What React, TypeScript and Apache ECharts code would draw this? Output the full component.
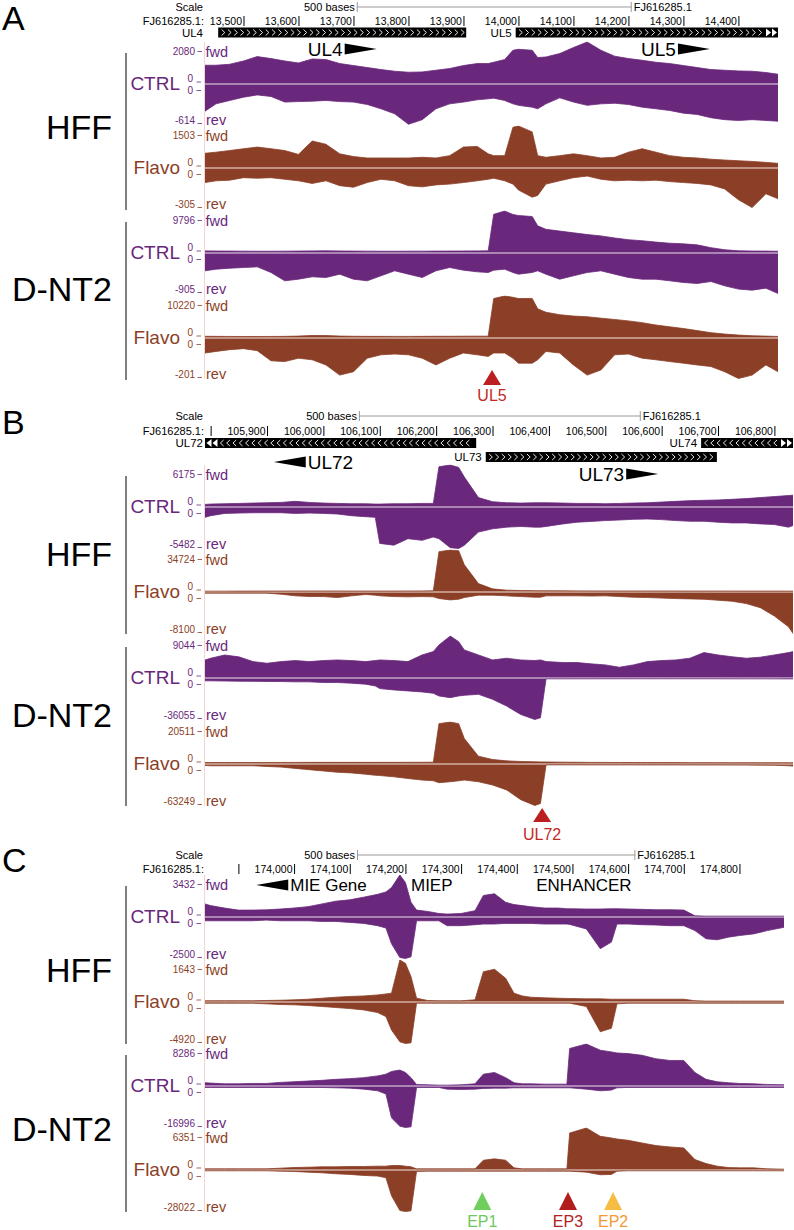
import { useEffect, useRef } from 'react';
import * as echarts from 'echarts';

const FONT = 'Arial, "Liberation Sans", Helvetica, sans-serif';
const CTRL_COLOR = '#69287b';
const FLAVO_COLOR = '#8c3f27';
const CTRL_ZERO = '#dccbe3';
const FLAVO_ZERO = '#ead2c9';
const TRACK_EDGE = '#f3d3d3';

// ───────── Panel A: UL4 / UL5 locus ─────────
const posA = [13430, 13450, 13475, 13500, 13525, 13550, 13575, 13600, 13625, 13650, 13675, 13700, 13725, 13750, 13775, 13800, 13825, 13850, 13875, 13900, 13925, 13945, 13955, 13975, 13990, 14000, 14025, 14035, 14050, 14075, 14100, 14125, 14150, 14175, 14200, 14225, 14250, 14275, 14300, 14325, 14350, 14375, 14400, 14425, 14450, 14472];
const aHffCtrlFwd = [915, 915, 965, 1130, 1350, 1250, 1130, 1030, 1230, 1200, 1000, 900, 800, 700, 615, 565, 580, 665, 750, 900, 1000, 1000, 1065, 1200, 1665, 1715, 1665, 1300, 1330, 1500, 1800, 2080, 1665, 1370, 1250, 1165, 1065, 1000, 900, 800, 700, 665, 630, 615, 550, 465];
const aHffCtrlRev = [-410, -297, -245, -195, -160, -184, -270, -262, -256, -245, -262, -270, -307, -373, -450, -610, -540, -373, -297, -270, -235, -220, -210, -245, -297, -320, -348, -373, -297, -205, -270, -320, -297, -288, -307, -348, -373, -399, -440, -460, -510, -540, -552, -540, -552, -563];
const aHffFlavoFwd = [515, 555, 615, 680, 740, 680, 615, 475, 960, 840, 495, 395, 345, 345, 345, 345, 370, 345, 430, 740, 765, 495, 430, 430, 1455, 1503, 1290, 430, 370, 430, 495, 430, 345, 370, 555, 680, 555, 430, 370, 345, 300, 270, 245, 220, 185, 150];
const aHffFlavoRev = [-107, -94, -89, -70, -74, -70, -82, -94, -114, -94, -131, -143, -107, -82, -94, -131, -140, -125, -119, -107, -94, -82, -74, -94, -119, -164, -219, -205, -119, -94, -70, -58, -82, -94, -89, -94, -89, -100, -107, -114, -125, -156, -238, -298, -193, -231];
const aDnt2CtrlFwd = [380, 350, 330, 320, 300, 300, 320, 340, 380, 400, 360, 330, 320, 300, 300, 310, 320, 330, 340, 360, 380, 390, 9000, 9796, 8980, 8730, 8490, 6290, 5470, 5060, 4650, 4240, 3920, 3430, 3020, 2780, 2450, 2200, 2040, 1800, 1140, 650, 410, 350, 330, 300];
const aDnt2CtrlRev = [-392, -355, -333, -317, -302, -430, -618, -581, -528, -543, -468, -581, -618, -505, -392, -468, -543, -392, -317, -377, -415, -430, -377, -355, -430, -468, -430, -392, -468, -581, -505, -430, -392, -468, -543, -581, -581, -618, -656, -679, -634, -732, -806, -830, -784, -905];
const aDnt2FlavoFwd = [300, 280, 260, 250, 250, 260, 280, 350, 500, 480, 350, 300, 280, 280, 270, 270, 280, 300, 300, 320, 330, 330, 9600, 10220, 9900, 9600, 9620, 7070, 6220, 5620, 5280, 5110, 4770, 4430, 4090, 3660, 3070, 2640, 2210, 1700, 1190, 850, 600, 430, 340, 260];
const aDnt2FlavoRev = [-73, -65, -56, -51, -61, -112, -116, -99, -107, -133, -184, -167, -99, -82, -78, -82, -99, -133, -99, -73, -82, -90, -73, -73, -99, -124, -124, -107, -65, -73, -133, -184, -158, -82, -78, -99, -107, -116, -124, -133, -141, -167, -201, -184, -133, -167];
const aMax = [2080, 1503, 9796, 10220];
const aMin = [-614, -305, -905, -201];
const rulerA = [13500, 13600, 13700, 13800, 13900, 14000, 14100, 14200, 14300, 14400];
const scaleBarA = [13706, 14206];

// ───────── Panel B: UL72 / UL73 / UL74 locus ─────────
const posB = [105790, 105800, 105825, 105850, 105875, 105900, 105925, 105950, 105975, 106000, 106025, 106050, 106075, 106092, 106100, 106125, 106150, 106175, 106195, 106205, 106225, 106240, 106250, 106275, 106300, 106325, 106350, 106375, 106385, 106395, 106425, 106450, 106475, 106500, 106525, 106550, 106575, 106600, 106625, 106650, 106675, 106700, 106725, 106750, 106775, 106800, 106825, 106833];
const bHffCtrlFwd = [310, 360, 410, 460, 510, 560, 610, 765, 610, 510, 460, 410, 410, 360, 360, 410, 410, 460, 460, 5920, 6175, 5820, 4390, 1330, 715, 560, 510, 560, 560, 560, 510, 460, 460, 410, 460, 510, 560, 660, 765, 870, 920, 970, 1070, 1175, 1330, 1480, 1630, 1685];
const bHffCtrlRev = [-1316, -1100, -790, -745, -700, -700, -700, -790, -745, -790, -877, -1100, -1230, -1316, -4800, -5040, -4170, -4390, -3950, -4170, -5370, -5482, -5040, -3290, -2850, -2630, -2540, -2630, -2630, -2540, -2190, -1970, -1860, -1750, -1670, -1580, -1540, -1620, -1750, -1840, -1840, -1970, -2060, -2060, -2190, -2280, -2630, -2410];
const bHffFlavoFwd = [300, 300, 300, 320, 350, 380, 400, 420, 430, 430, 420, 400, 380, 380, 380, 400, 420, 480, 550, 33300, 34724, 34100, 22300, 6600, 2200, 1100, 800, 700, 650, 600, 550, 500, 480, 460, 450, 440, 430, 420, 410, 400, 390, 380, 370, 360, 350, 340, 330, 320];
const bHffFlavoRev = [-130, -130, -130, -130, -130, -130, -330, -660, -800, -800, -1000, -660, -400, -530, -660, -800, -860, -800, -860, -1200, -1460, -1330, -1000, -530, -530, -660, -800, -930, -930, -660, -660, -660, -700, -660, -800, -930, -1000, -1100, -1200, -1260, -1330, -1530, -1730, -2190, -2990, -4650, -6770, -8100];
const bDnt2CtrlFwd = [3800, 4200, 4900, 4500, 3470, 3110, 3470, 3690, 3470, 3690, 3830, 3690, 3470, 3690, 3830, 3690, 3470, 4920, 5640, 7090, 9044, 7810, 6000, 4920, 3830, 4200, 3830, 3690, 3830, 3470, 3260, 3260, 2970, 2750, 2240, 2750, 3470, 3690, 3830, 4200, 5430, 4920, 4520, 4200, 4430, 4920, 5430, 5640];
const bDnt2CtrlRev = [-2070, -2070, -2200, -2400, -2500, -2600, -2660, -2950, -2950, -3550, -3550, -4140, -5020, -6500, -8870, -10050, -10930, -11820, -13000, -15360, -16840, -15360, -14780, -13890, -18320, -24230, -31620, -36055, -34600, -300, -300, -280, -280, -260, -260, -260, -250, -250, -250, -260, -260, -270, -280, -300, -300, -320, -350, -350];
const bDnt2FlavoFwd = [500, 500, 500, 500, 500, 500, 520, 540, 560, 560, 560, 560, 560, 560, 560, 570, 580, 600, 650, 19700, 20511, 19700, 12300, 3610, 1970, 1300, 1000, 850, 800, 750, 650, 600, 550, 520, 500, 480, 460, 450, 440, 430, 420, 410, 400, 400, 400, 390, 380, 380];
const bDnt2FlavoRev = [-1500, -2000, -2000, -2000, -2000, -3000, -4000, -6000, -8000, -10000, -12000, -13000, -15000, -16600, -17000, -19000, -21600, -24000, -25100, -28100, -26600, -25100, -24000, -26600, -31600, -39200, -54200, -63249, -60200, -600, -600, -600, -650, -650, -650, -650, -700, -700, -700, -750, -800, -800, -850, -900, -1000, -1200, -2000, -2500];
const bMax = [6175, 34724, 9044, 20511];
const bMin = [-5482, -8100, -36055, -63249];
const rulerB = [105800, 105900, 106000, 106100, 106200, 106300, 106400, 106500, 106600, 106700, 106800];
const scaleBarB = [106063, 106563];

// ───────── Panel C: MIE promoter / enhancer ─────────
const posC = [173840, 173850, 173875, 173900, 173925, 173950, 173975, 174000, 174025, 174050, 174075, 174100, 174125, 174150, 174165, 174175, 174190, 174200, 174210, 174220, 174240, 174260, 174275, 174300, 174325, 174340, 174360, 174380, 174395, 174410, 174425, 174450, 174475, 174490, 174495, 174525, 174550, 174570, 174580, 174600, 174625, 174650, 174675, 174700, 174720, 174740, 174760, 174780, 174800, 174825, 174850, 174880];
const cHffCtrlFwd = [1040, 900, 700, 530, 530, 550, 620, 700, 815, 1040, 1270, 1380, 1600, 1830, 2030, 2390, 3432, 2810, 1180, 530, 420, 250, 200, 250, 480, 1740, 1880, 1180, 985, 900, 815, 700, 700, 645, 645, 620, 620, 640, 640, 620, 590, 560, 560, 530, 60, 30, 30, 30, 30, 30, 30, 30];
const cHffCtrlRev = [-200, -200, -200, -200, -200, -160, -200, -200, -200, -240, -240, -300, -360, -500, -640, -1600, -2440, -2500, -2400, -200, -200, -200, -500, -500, -440, -400, -400, -360, -360, -360, -360, -400, -400, -400, -420, -700, -1900, -1500, -400, -400, -440, -460, -500, -500, -800, -1300, -1360, -1200, -1100, -1000, -800, -600];
const cHffFlavoFwd = [30, 30, 30, 30, 30, 40, 50, 65, 90, 130, 170, 200, 220, 260, 300, 330, 1643, 1510, 990, 130, 40, 30, 30, 30, 65, 1180, 1275, 920, 330, 220, 170, 145, 130, 120, 120, 105, 105, 90, 90, 90, 90, 90, 90, 90, 30, 15, 15, 15, 15, 15, 15, 15];
const cHffFlavoRev = [-80, -80, -80, -80, -80, -160, -240, -280, -360, -480, -600, -730, -890, -1210, -1690, -3310, -4720, -4920, -4840, -80, -80, -80, -80, -80, -80, -80, -80, -80, -80, -80, -80, -80, -80, -80, -80, -480, -3510, -3100, -160, -80, -80, -80, -80, -80, -80, -80, -80, -80, -80, -80, -80, -80];
const cDnt2CtrlFwd = [550, 480, 340, 340, 410, 410, 620, 750, 890, 1030, 1230, 1370, 1570, 1920, 2260, 2810, 3080, 2600, 1570, 200, 140, 70, 70, 140, 340, 2260, 2600, 1570, 550, 340, 340, 270, 270, 270, 7400, 8286, 7050, 6710, 6500, 6370, 6030, 5340, 5000, 5000, 2600, 1230, 750, 550, 410, 340, 200, 140];
const cDnt2CtrlRev = [-400, -400, -400, -400, -400, -400, -400, -400, -400, -400, -540, -680, -1090, -1770, -3130, -13000, -16450, -16996, -16720, -400, -400, -400, -1090, -1220, -1090, -820, -680, -680, -540, -540, -540, -540, -540, -540, -540, -1090, -1770, -1500, -540, -400, -400, -400, -400, -400, -400, -400, -400, -400, -400, -400, -400, -400];
const cDnt2FlavoFwd = [100, 100, 100, 100, 100, 100, 200, 300, 350, 410, 410, 460, 460, 510, 510, 610, 610, 510, 410, 100, 100, 100, 100, 100, 100, 1420, 1630, 1420, 250, 100, 100, 100, 100, 100, 5590, 6351, 5080, 4830, 4670, 4470, 4060, 3660, 3460, 3300, 1520, 910, 510, 300, 250, 250, 100, 50];
const cDnt2FlavoRev = [-200, -200, -200, -200, -200, -200, -450, -670, -1120, -1570, -2240, -2690, -3360, -3810, -4930, -17260, -27350, -28022, -27570, -670, -450, -450, -450, -450, -450, -450, -450, -450, -450, -450, -450, -450, -450, -450, -450, -1120, -2900, -2690, -450, -200, -200, -200, -200, -200, -200, -200, -200, -200, -200, -200, -200, -200];
const cMax = [3432, 1643, 8286, 6351];
const cMin = [-2500, -4920, -16996, -28022];
const rulerC = [173900, 174000, 174100, 174200, 174300, 174400, 174500, 174600, 174700, 174800];
const scaleBarC = [174113, 174613];

// ───────── annotation features ─────────
const genesA = [
  { name: 'UL4', start: 13454, end: 13905, strand: '+', row: 0 },
  { name: 'UL5', start: 13995, end: 14472, strand: '+', row: 0, moreRight: true },
];
const genesB = [
  { name: 'UL72', start: 105790, end: 106271, strand: '-', row: 0, moreLeft: true },
  { name: 'UL74', start: 106670, end: 106833, strand: '-', row: 0, moreRight: true },
  { name: 'UL73', start: 106288, end: 106698, strand: '+', row: 1 },
];
const genesC: any[] = [];

const calloutsA = [
  { text: 'UL4', pos: 13617, arrow: 'right', row: 0 },
  { text: 'UL5', pos: 14223, arrow: 'right', row: 0 },
];
const calloutsB = [
  { text: 'UL72', pos: 105912, arrow: 'left', row: 0 },
  { text: 'UL73', pos: 106453, arrow: 'right', row: 1 },
];
const calloutsC = [
  { text: 'MIE Gene', pos: 173932, arrow: 'left', row: 0 },
  { text: 'MIEP', pos: 174210, arrow: 'none', row: 0 },
  { text: 'ENHANCER', pos: 174435, arrow: 'none', row: 0 },
];

const markersA = [{ text: 'UL5', pos: 13952, color: '#bc1f1f', textColor: '#c4281f' }];
const markersB = [{ text: 'UL72', pos: 106388, color: '#bc1f1f', textColor: '#c4281f' }];
const markersC = [
  { text: 'EP1', pos: 174338, color: '#6fcf5d', textColor: '#6dca5b' },
  { text: 'EP3', pos: 174492, color: '#b21d1d', textColor: '#b52020' },
  { text: 'EP2', pos: 174573, color: '#f6bd44', textColor: '#f29a2f' },
];

const cellLines = ['HFF', 'HFF', 'D-NT2', 'D-NT2'];
const conditions = ['CTRL', 'Flavo', 'CTRL', 'Flavo'];

const panels = [
  {
    letter: 'A', start: 13430, end: 14472, pos: posA,
    fwd: [aHffCtrlFwd, aHffFlavoFwd, aDnt2CtrlFwd, aDnt2FlavoFwd],
    rev: [aHffCtrlRev, aHffFlavoRev, aDnt2CtrlRev, aDnt2FlavoRev],
    maxes: aMax, mins: aMin, ruler: rulerA, scaleBar: scaleBarA,
    genes: genesA, callouts: calloutsA, markers: markersA,
    layout: {
      left: 205, right: 778, letterY: 18, scaleY: 7, rulerY: 21, geneRows: [32.5], calloutRows: [49], calloutFont: 19,
      tops: [42, 126, 211, 296], fwdH: 41.5, revH: 41, cellY: [127, 289],
      markerTip: 370, markerBase: 385, markerTextY: 395,
    },
  },
  {
    letter: 'B', start: 105790, end: 106833, pos: posB,
    fwd: [bHffCtrlFwd, bHffFlavoFwd, bDnt2CtrlFwd, bDnt2FlavoFwd],
    rev: [bHffCtrlRev, bHffFlavoRev, bDnt2CtrlRev, bDnt2FlavoRev],
    maxes: bMax, mins: bMin, ruler: rulerB, scaleBar: scaleBarB,
    genes: genesB, callouts: calloutsB, markers: markersB,
    layout: {
      left: 205, right: 793, letterY: 422, scaleY: 416, rulerY: 431, geneRows: [443, 457], calloutRows: [462, 474], calloutFont: 19,
      tops: [465, 550, 636, 722], fwdH: 41.5, revH: 42, cellY: [554, 715],
      markerTip: 808, markerBase: 822, markerTextY: 834,
    },
  },
  {
    letter: 'C', start: 173840, end: 174880, pos: posC,
    fwd: [cHffCtrlFwd, cHffFlavoFwd, cDnt2CtrlFwd, cDnt2FlavoFwd],
    rev: [cHffCtrlRev, cHffFlavoRev, cDnt2CtrlRev, cDnt2FlavoRev],
    maxes: cMax, mins: cMin, ruler: rulerC, scaleBar: scaleBarC,
    genes: genesC, callouts: calloutsC, markers: markersC,
    layout: {
      left: 205, right: 784, letterY: 860, scaleY: 855, rulerY: 869, geneRows: [], calloutRows: [885], calloutFont: 17,
      tops: [875, 960, 1044, 1128], fwdH: 41.5, revH: 42, cellY: [970, 1129],
      markerTip: 1192, markerBase: 1210, markerTextY: 1221,
    },
  },
];

let measureCtx: CanvasRenderingContext2D | null = null;
function textWidth(text: string, size: number): number {
  if (!measureCtx) measureCtx = document.createElement('canvas').getContext('2d');
  if (!measureCtx) return text.length * size * 0.6;
  measureCtx.font = `${size}px ${FONT}`;
  return measureCtx.measureText(text).width;
}

const txt = (text: string, x: number, y: number, size: number, fill: string, align = 'left', extra: any = {}) => ({
  type: 'text',
  silent: true,
  style: { text, x, y, fontSize: size, fontFamily: FONT, fill, align, verticalAlign: 'middle', ...extra },
});

const seg = (x1: number, y1: number, x2: number, y2: number, stroke: string, lineWidth = 1) => ({
  type: 'line',
  silent: true,
  shape: { x1, y1, x2, y2 },
  style: { stroke, lineWidth },
});

function buildOption() {
  const grid: any[] = [];
  const xAxis: any[] = [];
  const yAxis: any[] = [];
  const series: any[] = [];
  const graphics: any[] = [];

  const addGrid = (left: number, width: number, top: number, height: number, xmin: number, xmax: number, ymin: number, ymax: number) => {
    const i = grid.length;
    grid.push({ left, top, width, height, containLabel: false, show: false });
    xAxis.push({ type: 'value', gridIndex: i, min: xmin, max: xmax, show: false });
    yAxis.push({ type: 'value', gridIndex: i, min: ymin, max: ymax, show: false });
    return i;
  };

  panels.forEach((p) => {
    const L: any = p.layout;
    const width = L.right - L.left;

    // ── header: ruler, scale bar, gene models, callouts ──
    const h = addGrid(L.left, width, L.scaleY - 5, 40, p.start, p.end, 0, 1);

    series.push({
      type: 'custom', xAxisIndex: h, yAxisIndex: h, silent: true,
      data: p.ruler.map((v) => [v]),
      renderItem: (_params: any, api: any) => {
        const v = api.value(0);
        const x = api.coord([v, 0])[0];
        const children: any[] = [seg(x + 0.5, L.rulerY - 5, x + 0.5, L.rulerY + 5, '#000', 1)];
        if (x - 36 > L.left) children.push(txt(v.toLocaleString('en-US'), x - 1.5, L.rulerY, 10.5, '#000', 'right'));
        return { type: 'group', children };
      },
    });

    series.push({
      type: 'custom', xAxisIndex: h, yAxisIndex: h, silent: true,
      data: [p.scaleBar],
      renderItem: (_params: any, api: any) => {
        const x0 = api.coord([api.value(0), 0])[0];
        const x1 = api.coord([api.value(1), 0])[0];
        const y = L.scaleY;
        return {
          type: 'group',
          children: [
            seg(x0, y, x1, y, '#9a9a9a', 1),
            seg(x0 + 0.5, y - 5, x0 + 0.5, y + 5, '#9a9a9a', 1),
            seg(x1 - 0.5, y - 5, x1 - 0.5, y + 5, '#9a9a9a', 1),
            txt('500 bases', x0 - 2, y, 11, '#000', 'right'),
            txt('FJ616285.1', x1 + 2, y, 11, '#000', 'left'),
          ],
        };
      },
    });

    if (p.genes.length) {
      series.push({
        type: 'custom', xAxisIndex: h, yAxisIndex: h, silent: true,
        data: p.genes.map((g: any, i: number) => [g.start, g.end, i]),
        renderItem: (_params: any, api: any) => {
          const g: any = p.genes[api.value(2)];
          const x0 = api.coord([g.start, 0])[0];
          const x1 = api.coord([g.end, 0])[0];
          const cy = L.geneRows[g.row];
          const children: any[] = [
            { type: 'rect', shape: { x: x0, y: cy - 5, width: x1 - x0, height: 10 }, style: { fill: '#000' } },
          ];
          const from = x0 + (g.moreLeft ? 17 : 5);
          const to = x1 - (g.moreRight ? 15 : 3);
          for (let x = from; x < to; x += 6.3) {
            const pts = g.strand === '+'
              ? [[x - 1.6, cy - 3], [x + 1.6, cy], [x - 1.6, cy + 3]]
              : [[x + 1.6, cy - 3], [x - 1.6, cy], [x + 1.6, cy + 3]];
            children.push({ type: 'polyline', shape: { points: pts }, style: { stroke: '#fff', lineWidth: 0.9, fill: null } });
          }
          if (g.moreRight) {
            [x1 - 12, x1 - 6].forEach((x) => children.push({ type: 'polygon', shape: { points: [[x, cy - 4], [x + 5, cy], [x, cy + 4]] }, style: { fill: '#fff' } }));
          }
          if (g.moreLeft) {
            [x0 + 1.5, x0 + 7.5].forEach((x) => children.push({ type: 'polygon', shape: { points: [[x + 5, cy - 4], [x, cy], [x + 5, cy + 4]] }, style: { fill: '#fff' } }));
          }
          // names of genes that start close to the window edge sit in the label column
          const labelX = x0 - L.left < 20 ? L.left - 2 : x0 - 4;
          children.push(txt(g.name, labelX, cy, 11.5, '#000', 'right'));
          return { type: 'group', children };
        },
      });
    }

    series.push({
      type: 'custom', xAxisIndex: h, yAxisIndex: h, silent: true,
      data: p.callouts.map((c: any, i: number) => [c.pos, i]),
      renderItem: (_params: any, api: any) => {
        const c: any = p.callouts[api.value(1)];
        const x = api.coord([c.pos, 0])[0];
        const y = L.calloutRows[c.row];
        const size = L.calloutFont;
        const children: any[] = [];
        if (c.arrow === 'left') {
          children.push({ type: 'polygon', shape: { points: [[x + 32, y - 5.5], [x, y], [x + 32, y + 5.5]] }, style: { fill: '#000' } });
          children.push(txt(c.text, x + 34, y, size, '#000', 'left'));
        } else if (c.arrow === 'right') {
          const w = textWidth(c.text, size);
          const ax = x + w + 2;
          children.push(txt(c.text, x, y, size, '#000', 'left'));
          children.push({ type: 'polygon', shape: { points: [[ax, y - 5.5], [ax + 32, y], [ax, y + 5.5]] }, style: { fill: '#000' } });
        } else {
          children.push(txt(c.text, x, y, size, '#000', 'left'));
        }
        return { type: 'group', children };
      },
    });

    graphics.push(txt(p.letter, 2, L.letterY, 34, '#000', 'left', { lineHeight: 34 }));
    graphics.push(txt('Scale', 203, L.scaleY, 11, '#000', 'right'));
    graphics.push(txt('FJ616285.1:', 204, L.rulerY, 11, '#000', 'right'));

    // ── signal tracks ──
    p.fwd.forEach((fwd: number[], k: number) => {
      const top = L.tops[k];
      const zero = top + L.fwdH;
      const bottom = zero + L.revH;
      const isCtrl = conditions[k] === 'CTRL';
      const color = isCtrl ? CTRL_COLOR : FLAVO_COLOR;
      const gf = addGrid(L.left, width, top, L.fwdH, p.start, p.end, 0, p.maxes[k]);
      const gr = addGrid(L.left, width, zero + 1, L.revH - 1, p.start, p.end, p.mins[k], 0);
      const area = (g: number, vals: number[], name: string) => ({
        type: 'line', name, xAxisIndex: g, yAxisIndex: g, silent: true,
        data: p.pos.map((x: number, i: number) => [x, vals[i]]),
        symbol: 'none', showSymbol: false,
        lineStyle: { width: 0.8, color },
        areaStyle: { color, opacity: 1 },
      });
      series.push(area(gf, fwd, `${p.letter} ${cellLines[k]} ${conditions[k]} fwd`));
      series.push(area(gr, p.rev[k], `${p.letter} ${cellLines[k]} ${conditions[k]} rev`));

      graphics.push(seg(L.left, zero + 0.5, L.right, zero + 0.5, isCtrl ? CTRL_ZERO : FLAVO_ZERO, 1));

      // scale labels on the left of each strand
      const small = { lineHeight: 11 };
      const word = { lineHeight: 13 };
      graphics.push(txt(String(p.maxes[k]), 195, top + 9.5, 10, color, 'right', small));
      graphics.push(seg(197.5, top + 9.5, 202, top + 9.5, color, 0.8));
      graphics.push(txt('fwd', 205.5, top + 9.5, 14.5, color, 'left', word));
      graphics.push(txt('0', 193, zero - 5.5, 10, color, 'right', small));
      graphics.push(seg(196.5, zero - 1.5, 201, zero - 1.5, color, 0.8));
      graphics.push(txt('0', 193, zero + 7, 10, color, 'right', small));
      graphics.push(seg(196.5, zero + 7, 201, zero + 7, color, 0.8));
      graphics.push(txt(String(p.mins[k]), 195, bottom - 4.5, 10, color, 'right', small));
      graphics.push(seg(197.5, bottom - 1, 202, bottom - 1, color, 0.8));
      graphics.push(txt('rev', 206, bottom - 4.5, 14.5, color, 'left', word));
      graphics.push(txt(conditions[k], 180, zero, 19, color, 'right'));
    });

    // pink edge of the data area
    const lastBottom = L.tops[3] + L.fwdH + L.revH;
    graphics.push(seg(L.left - 0.5, L.tops[0], L.left - 0.5, lastBottom, TRACK_EDGE, 1));

    // cell-line brackets and names
    [0, 2].forEach((k, j) => {
      graphics.push(seg(126, L.tops[k] + 11, 126, L.tops[k + 1] + 84, '#3c3c3c', 1.3));
      graphics.push(txt(cellLines[k], 112, L.cellY[j], 34, '#000', 'right'));
    });

    // ── position markers under the tracks ──
    const m = addGrid(L.left, width, L.markerTip, 20, p.start, p.end, 0, 1);
    series.push({
      type: 'custom', xAxisIndex: m, yAxisIndex: m, silent: true,
      data: p.markers.map((mk: any, i: number) => [mk.pos, i]),
      renderItem: (_params: any, api: any) => {
        const mk: any = p.markers[api.value(1)];
        const x = api.coord([mk.pos, 0])[0];
        return {
          type: 'group',
          children: [
            { type: 'polygon', shape: { points: [[x, L.markerTip], [x - 9, L.markerBase], [x + 9, L.markerBase]] }, style: { fill: mk.color } },
            txt(mk.text, x, L.markerTextY, 16, mk.textColor, 'center'),
          ],
        };
      },
    });
  });

  return {
    animation: false,
    backgroundColor: '#ffffff',
    grid, xAxis, yAxis, series,
    graphic: { elements: graphics },
  };
}

export default function App() {
  const ref = useRef<HTMLDivElement>(null);
  useEffect(() => {
    if (!ref.current) return;
    const chart = echarts.init(ref.current, undefined, { renderer: 'svg' });
    chart.setOption(buildOption() as any);
    return () => chart.dispose();
  }, []);
  return (
    <div
      ref={ref}
      style={{ position: 'absolute', left: 0, top: 0, width: 794, height: 1230, background: '#fff' }}
    />
  );
}
